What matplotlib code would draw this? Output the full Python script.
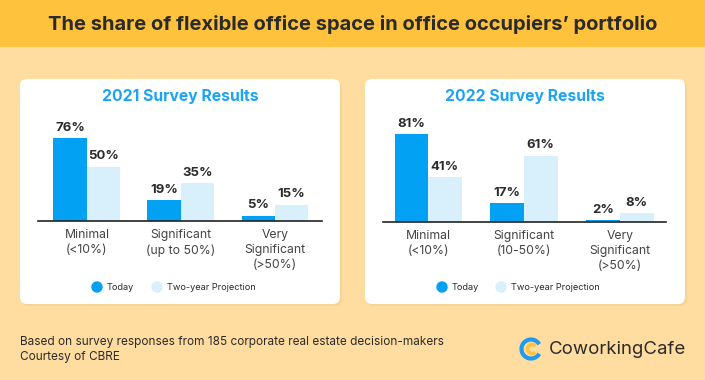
import matplotlib.pyplot as plt
from matplotlib.patches import FancyBboxPatch, Rectangle, Arc, Circle

plt.rcParams['font.family'] = ['Inter', 'DejaVu Sans']

# data
cats_2021 = ['Minimal\n(<10%)', 'Significant\n(up to 50%)', 'Very\nSignificant\n(>50%)']
cats_2022 = ['Minimal\n(<10%)', 'Significant\n(10-50%)', 'Very\nSignificant\n(>50%)']
today_2021 = [76, 19, 5]
proj_2021 = [50, 35, 15]
today_2022 = [81, 17, 2]
proj_2022 = [41, 61, 8]
series_names = ['Today', 'Two-year Projection']

BLUE = '#03A1F4'
LIGHT = '#D8F0FC'
TXT = '#2B2B2B'
W, H = 705, 380

fig = plt.figure(figsize=(W / 100, H / 100), dpi=100)
fig.patch.set_facecolor('#FFDCA0')

# background layer in pixel units
bg = fig.add_axes([0, 0, 1, 1])
bg.set_xlim(0, W)
bg.set_ylim(H, 0)
bg.axis('off')
bg.add_patch(Rectangle((0, 0), W, 47, color='#FFC23D', lw=0))
bg.text(W / 2, 24, 'The share of flexible office space in office occupiers\u2019 portfolio',
        ha='center', va='center', fontsize=14.5, fontweight='bold', color=TXT)
for x0, x1 in [(20, 340), (365, 685)]:
    bg.add_patch(FancyBboxPatch((x0 + 2, 81), x1 - x0, 225, boxstyle='round,pad=0,rounding_size=7',
                                fc='#F2C98A', ec='none', alpha=0.5))
    bg.add_patch(FancyBboxPatch((x0, 79), x1 - x0, 225, boxstyle='round,pad=0,rounding_size=7',
                                fc='white', ec='none'))

bg.text(20, 342, 'Based on survey responses from 185 corporate real estate decision-makers',
        ha='left', va='center', fontsize=8.5, color=TXT)
bg.text(20, 357, 'Courtesy of CBRE', ha='left', va='center', fontsize=8.5, color=TXT)

# logo
bg.add_patch(Arc((531, 349), 19, 19, theta1=30, theta2=330, lw=3, color='#1E9BF0'))
bg.add_patch(Arc((532, 349), 9, 9, theta1=45, theta2=315, lw=2.5, color='#FFC23D'))
bg.text(549, 349, 'CoworkingCafe', ha='left', va='center', fontsize=13.4, color=TXT)


def draw(px0, px1, base, cats, today, proj, bw, xl):
    top = base - 109
    ax = fig.add_axes([px0 / W, (H - base) / H, (px1 - px0) / W, (base - top) / H])
    xs = range(len(cats))
    b1 = ax.bar([x - bw / 2 for x in xs], today, bw, color=BLUE, label=series_names[0])
    b2 = ax.bar([x + bw / 2 for x in xs], proj, bw, color=LIGHT, label=series_names[1])
    for bars in (b1, b2):
        ax.bar_label(bars, labels=[f'{v}%' for v in bars.datavalues], padding=3,
                     fontsize=9.5, fontweight='bold', color=TXT)
    ax.set_xlim(*xl)
    ax.set_ylim(0, 100)
    ax.set_xticks(list(xs))
    ax.set_xticklabels(cats, fontsize=8.8, color='#444444', linespacing=1.38)
    ax.tick_params(axis='x', length=0, pad=5.5)
    ax.set_yticks([])
    for s in ['top', 'right', 'left']:
        ax.spines[s].set_visible(False)
    ax.spines['bottom'].set_color('#222222')
    ax.spines['bottom'].set_linewidth(1.2)
    ax.patch.set_alpha(0)
    return ax


ax1 = draw(38, 322, 221, cats_2021, today_2021, proj_2021, 0.356, (-0.52, 2.5))
ax2 = draw(383, 666, 222, cats_2022, today_2022, proj_2022, 0.35, (-0.47, 2.48))

bg.text(180, 97, '2021 Survey Results', ha='center', va='center', fontsize=11.3,
        fontweight='bold', color='#1CA4F4')
bg.text(525, 97, '2022 Survey Results', ha='center', va='center', fontsize=11.3,
        fontweight='bold', color='#1CA4F4')

# legends
for cx1, cx2 in [(97, 157), (442, 501)]:
    bg.add_patch(Circle((cx1, 287), 5, color=BLUE))
    bg.add_patch(Circle((cx2, 287), 5, color=LIGHT))
    bg.text(cx1 + 10, 287, series_names[0], ha='left', va='center', fontsize=6.6, color=TXT)
    bg.text(cx2 + 10, 287, series_names[1], ha='left', va='center', fontsize=6.6, color=TXT)

fig.savefig('out.png', dpi=100)
